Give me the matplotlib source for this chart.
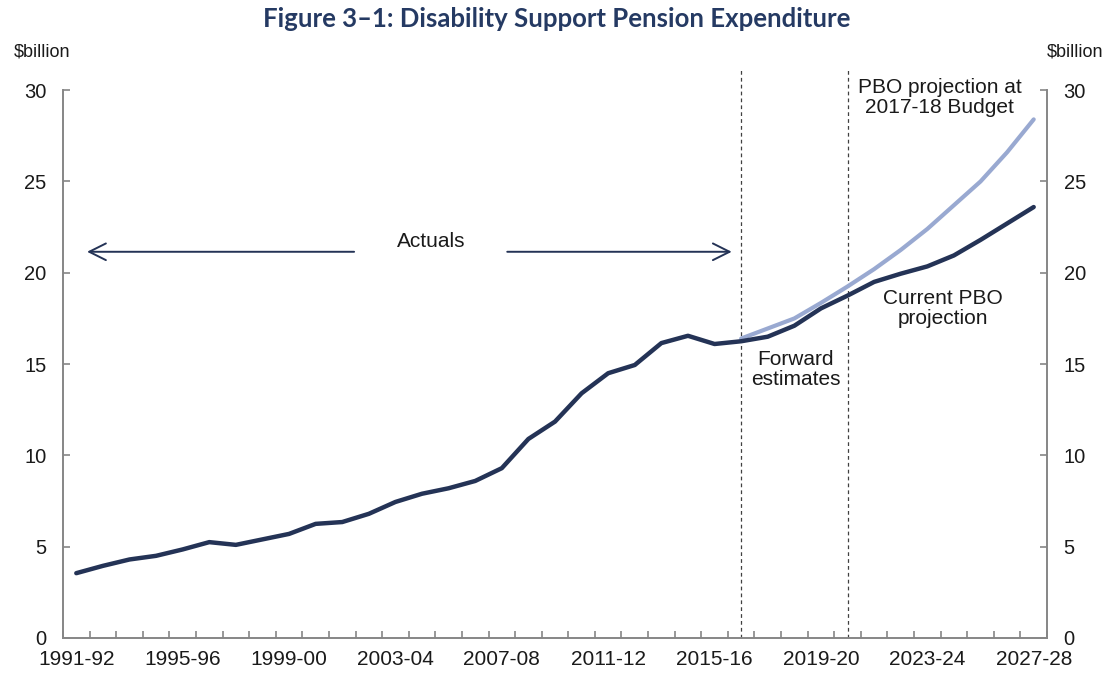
import matplotlib.pyplot as plt
import numpy as np

plt.rcParams['font.family'] = ['Liberation Sans', 'DejaVu Sans']

# Financial years 1991-92 .. 2027-28
years = ['%d-%02d' % (y, (y + 1) % 100) for y in range(1991, 2028)]

# Current PBO projection (actuals + forward estimates + projection), $billion
current = [3.55, 3.95, 4.3, 4.5, 4.85, 5.25, 5.1, 5.4, 5.7, 6.25,
           6.35, 6.8, 7.45, 7.9, 8.2, 8.6, 9.3, 10.9, 11.85, 13.4,
           14.5, 14.95, 16.15, 16.55, 16.1, 16.25, 16.5, 17.1, 18.05, 18.75,
           19.5, 19.95, 20.35, 20.95, 21.8, 22.7, 23.6]

# PBO projection at 2017-18 Budget, starts in 2016-17
budget_start = 25
budget = [16.4, 16.95, 17.5, 18.35, 19.25, 20.2, 21.25, 22.4, 23.7, 25.0, 26.6, 28.4]

dark = '#243356'
light = '#99a9d1'
grey = '#868686'

fig = plt.figure(figsize=(11.13, 6.78), dpi=100)
ax = fig.add_axes([0.0566, 0.059, 0.8841, 0.808])

x = np.arange(len(years))
ax.plot(x[budget_start:], budget, color=light, lw=3.0, solid_capstyle='round', zorder=3)
ax.plot(x, current, color=dark, lw=3.2, solid_capstyle='round', zorder=4)

ax.set_xlim(-0.5, len(years) - 0.5)
ax.set_ylim(0, 30)

# dashed lines marking forward estimates period
for xv in [25, 29]:
    ax.plot([xv, xv], [0, 31.1], color='#404040', lw=0.9, ls=(0, (3, 2.5)), clip_on=False, zorder=2)

# ticks
ax.set_xticks(x[::4])
ax.set_xticklabels(years[::4])
ax.set_xticks(np.arange(-0.5, len(years) + 0.5, 1), minor=True)
ax.tick_params(axis='x', which='major', length=0, pad=9, labelsize=15, colors='#1a1a1a')
ax.tick_params(axis='x', which='minor', direction='in', length=5, width=1.2, color=grey)
ax.set_yticks(range(0, 31, 5))
ax.tick_params(axis='y', direction='in', length=5, width=1.2, color=grey, labelsize=14.5,
               labelcolor='#1a1a1a', pad=12, left=True, right=True, labelleft=True, labelright=True)

for s in ['left', 'right', 'bottom']:
    ax.spines[s].set_color(grey)
    ax.spines[s].set_linewidth(1.4)
ax.spines['top'].set_visible(False)

# axis unit labels
fig.text(42 / 1113, 1 - 52 / 678, '$billion', ha='center', va='center', fontsize=13, color='#1a1a1a')
fig.text(1075 / 1113, 1 - 52 / 678, '$billion', ha='center', va='center', fontsize=13, color='#1a1a1a')

# title
fig.text(0.5, 1 - 19 / 678, 'Figure 3\u20131: Disability Support Pension Expenditure',
         ha='center', va='center', fontsize=18.5, fontweight='bold', color='#253a63',
         family=['Lato', 'DejaVu Sans'])

# actuals arrows
ax.annotate('', xy=(0.3, 21.15), xytext=(10.55, 21.15),
            arrowprops=dict(arrowstyle='->', color=dark, lw=1.4, mutation_scale=30))
ax.annotate('', xy=(24.75, 21.15), xytext=(16.1, 21.15),
            arrowprops=dict(arrowstyle='->', color=dark, lw=1.4, mutation_scale=30))
ax.text(13.33, 21.7, 'Actuals', ha='center', va='center', fontsize=15, color='#1a1a1a')

ax.text(27.05, 14.7, 'Forward\nestimates', ha='center', va='center', fontsize=15,
        color='#1a1a1a', linespacing=1.05)
ax.text(32.6, 18.05, 'Current PBO\nprojection', ha='center', va='center', fontsize=15,
        color='#1a1a1a', linespacing=1.05)
ax.text(32.47, 29.6, 'PBO projection at\n2017-18 Budget', ha='center', va='center', fontsize=15,
        color='#1a1a1a', linespacing=1.05, clip_on=False)

fig.savefig('out.png', dpi=100)
